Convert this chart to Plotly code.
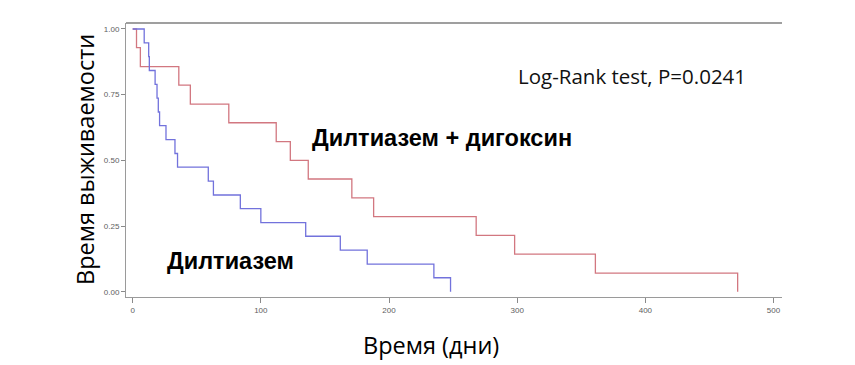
import plotly.graph_objects as go

# Kaplan-Meier event times (days) and survival after each event
dilt_times = [9, 12.5, 13, 17.5, 19, 20, 21, 26, 33, 35, 59, 63, 84, 100, 135, 162, 183, 235, 248]
dilt_surv = [0.947, 0.895, 0.842, 0.789, 0.737, 0.684, 0.632, 0.579, 0.526, 0.474,
             0.421, 0.368, 0.316, 0.263, 0.211, 0.158, 0.105, 0.053, 0.0]

digo_times = [3, 6, 36, 45, 75, 112, 123, 137, 171, 188, 268, 298, 361, 472]
digo_surv = [0.929, 0.857, 0.786, 0.714, 0.643, 0.571, 0.5, 0.429, 0.357, 0.286,
             0.214, 0.143, 0.071, 0.0]

x_ticks = [0, 100, 200, 300, 400, 500]
y_ticks = [0.0, 0.25, 0.5, 0.75, 1.0]
y_ticklabels = ["0.00", "0.25", "0.50", "0.75", "1.00"]

fig = go.Figure()
fig.add_trace(go.Scatter(x=[0] + digo_times, y=[1.0] + digo_surv, mode="lines",
                         line=dict(shape="hv", color="#d27780", width=1.3),
                         name="Дилтиазем + дигоксин", showlegend=False))
fig.add_trace(go.Scatter(x=[0] + dilt_times, y=[1.0] + dilt_surv, mode="lines",
                         line=dict(shape="hv", color="#7272dc", width=1.3),
                         name="Дилтиазем", showlegend=False))

tickfont = dict(family="Liberation Sans, Arial", size=8, color="#606060")
fig.update_layout(
    width=847, height=357,
    margin=dict(l=118, r=73, t=15, b=68, autoexpand=False),
    plot_bgcolor="white", paper_bgcolor="white",
    xaxis=dict(range=[-5.2, 506.6], tickvals=x_ticks, ticks="outside", ticklen=5,
               tickcolor="#8a8a8a", showgrid=False, zeroline=False, showline=True,
               linecolor="#9a9a9a", linewidth=1, tickfont=tickfont, automargin=False),
    yaxis=dict(range=[-0.0202, 1.0228], tickvals=y_ticks, ticktext=y_ticklabels,
               ticks="outside", ticklen=4, tickcolor="#8a8a8a", showgrid=False,
               zeroline=False, showline=True, linecolor="#9a9a9a", linewidth=1,
               tickfont=tickfont, automargin=False),
)
# top frame line
fig.add_shape(type="line", xref="paper", yref="paper", x0=0, x1=1, y0=1, y1=1,
              line=dict(color="#7f7f7f", width=1.6))

# axis titles
fig.add_annotation(x=-0.0625, y=0.5, xref="paper", yref="paper", text="Время выживаемости",
                   textangle=-90, showarrow=False, xanchor="center", yanchor="middle",
                   font=dict(family="Open Sans", size=23.5, color="black"))
fig.add_annotation(x=0.465, y=-0.175, xref="paper", yref="paper", text="Время (дни)",
                   showarrow=False, xanchor="center", yanchor="middle",
                   font=dict(family="Open Sans", size=23.5, color="black"))

fig.add_annotation(x=389.6, y=0.82, xref="x", yref="y", text="Log-Rank test, P=0.0241",
                   showarrow=False, font=dict(family="Open Sans", size=20.5, color="#111"))
fig.add_annotation(x=241, y=0.585, xref="x", yref="y", text="<b>Дилтиазем + дигоксин</b>",
                   showarrow=False, font=dict(family="Liberation Sans, Arial", size=23.5, color="black"))
fig.add_annotation(x=76.3, y=0.117, xref="x", yref="y", text="<b>Дилтиазем</b>",
                   showarrow=False, font=dict(family="Liberation Sans, Arial", size=23.5, color="black"))

fig.write_html("out.html")
